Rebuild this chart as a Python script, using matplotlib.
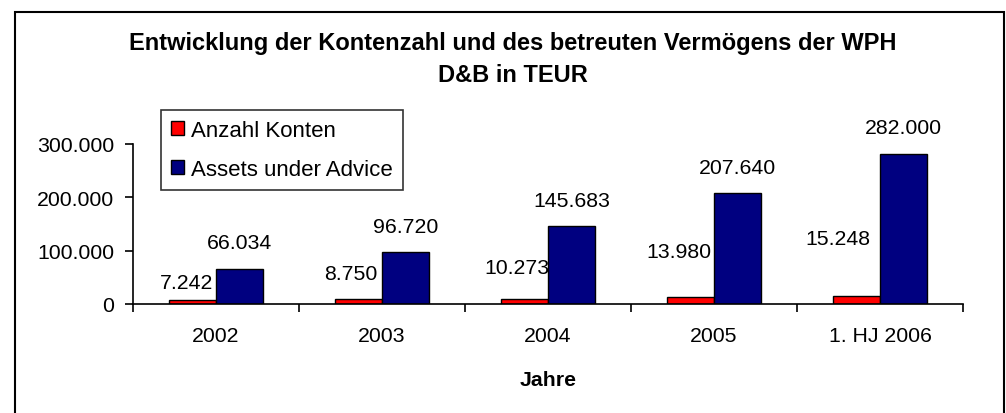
import matplotlib.pyplot as plt
import numpy as np
from matplotlib.patches import Rectangle
from matplotlib.ticker import FuncFormatter, FixedLocator

plt.rcParams['font.family'] = ['Liberation Sans', 'DejaVu Sans']

# data
jahre = ["2002", "2003", "2004", "2005", "1. HJ 2006"]
anzahl_konten = [7242, 8750, 10273, 13980, 15248]
assets = [66034, 96720, 145683, 207640, 282000]

# hand placed red labels in the original (offsets in pixels from bar top)
red_label_offsets = [(-6, 18), (-8, 26), (-8, 31), (-12, 45), (-19, 57)]

FS = 15.3

def de_fmt(v):
    return f"{v:,.0f}".replace(",", ".")

fig = plt.figure(figsize=(10.06, 4.14), dpi=100)
ax = fig.add_axes([0.1322, 0.2633, 0.8251, 0.3865])

x = np.arange(len(jahre))
w = 0.283
b1 = ax.bar(x - w / 2, anzahl_konten, w, color="#FF0000", edgecolor="black", lw=1, label="Anzahl Konten")
b2 = ax.bar(x + w / 2, assets, w, color="#000080", edgecolor="black", lw=1, label="Assets under Advice")

px = 72 / 100  # pixel -> points
for i, v in enumerate(anzahl_konten):
    dx, dy = red_label_offsets[i]
    ax.annotate(de_fmt(v), (x[i] - w / 2, v), xytext=(dx * px, dy * px), textcoords="offset points",
                ha="center", va="center", fontsize=FS)
for i, v in enumerate(assets):
    ax.annotate(de_fmt(v), (x[i] + w / 2, v), xytext=(0, 26 * px), textcoords="offset points",
                ha="center", va="center", fontsize=FS)

ax.set_xlim(-0.5, len(jahre) - 0.5)
ax.set_ylim(0, 300000)
ax.set_yticks([0, 100000, 200000, 300000])
ax.yaxis.set_major_formatter(FuncFormatter(lambda v, p: de_fmt(v)))
ax.set_xticks(x)
ax.set_xticklabels(jahre)
ax.xaxis.set_minor_locator(FixedLocator(np.arange(len(jahre) + 1) - 0.5))
ax.tick_params(axis="x", which="major", length=0, pad=16, labelsize=FS)
ax.tick_params(axis="x", which="minor", length=6, width=1.2, direction="out")
ax.tick_params(axis="y", length=6, width=1.2, direction="out", labelsize=FS, pad=7.5)
for s in ["top", "right"]:
    ax.spines[s].set_visible(False)
for s in ["left", "bottom"]:
    ax.spines[s].set_linewidth(1.2)

ax.set_xlabel("Jahre", fontsize=FS, fontweight="bold", labelpad=18)

fig.text(0.5095, 0.896, "Entwicklung der Kontenzahl und des betreuten Vermögens der WPH",
         ha="center", va="center", fontsize=17, fontweight="bold")
fig.text(0.5095, 0.817, "D&B in TEUR", ha="center", va="center", fontsize=17, fontweight="bold")

leg = fig.legend(handles=[b1, b2], loc="upper left", bbox_to_anchor=(161 / 1006, 1 - 111 / 414),
                 frameon=True, fancybox=False, fontsize=16, handlelength=0.6, handleheight=0.6,
                 handletextpad=0.3, borderpad=0.45, labelspacing=0.8, borderaxespad=0)
leg.get_frame().set_edgecolor("black")
leg.get_frame().set_linewidth(1.2)

# outer chart frame
fig.patches.append(Rectangle((15 / 1006, -0.05), 989 / 1006, 1.05 - 13 / 414, transform=fig.transFigure,
                             fill=False, edgecolor="black", lw=1.5, clip_on=False))

fig.savefig("out.png", dpi=100)
